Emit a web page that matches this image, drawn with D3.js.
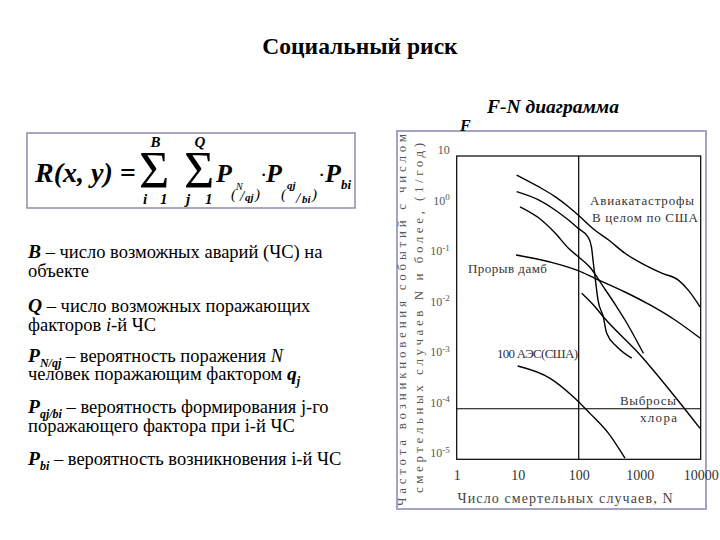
<!DOCTYPE html>
<html>
<head>
<meta charset="utf-8">
<script src="https://cdn.jsdelivr.net/npm/d3@7/dist/d3.min.js"></script>
<style>
  body { margin: 0; background: #fff; }
  svg, svg text { font-family: "Liberation Serif", "Times New Roman", serif; }
</style>
</head>
<body>
<svg id="slide" width="720" height="540"></svg>
<script>
// F-N curves, [N deaths, frequency per year]
const curveTotal = [[9.6, 4.2], [22, 2.47], [41, 1.57], [68, 0.99], [98, 0.68], [185, 0.34], [306, 0.22],
  [574, 0.119], [1080, 0.075], [2300, 0.048], [4300, 0.035], [6300, 0.022], [9750, 0.0104]];
const curveAir = [[9.6, 1.97], [22, 1.35], [41, 0.855], [68, 0.54], [98, 0.37], [142, 0.25], [162, 0.158],
  [173, 0.08], [188, 0.035], [207, 0.0142], [253, 0.0066], [288, 0.0031], [420, 0.0017], [740, 0.001]];
const curveThird = [[10.9, 0.99], [22, 0.6], [41, 0.3], [68, 0.15], [100, 0.1], [153, 0.063], [253, 0.026],
  [420, 0.0104], [574, 0.0057], [1150, 0.00125]];
const curveDams = [[9.4, 0.11], [34, 0.08], [98, 0.054], [185, 0.038], [574, 0.0204], [1475, 0.0113],
  [3790, 0.0057], [9750, 0.0025]];
const curveChlorine = [[112, 0.0192], [185, 0.0104], [253, 0.0066], [1080, 0.00107], [3790, 0.000173], [9750, 0.000041]];
const curveNPP = [[10, 7e-4], [34, 4e-4], [81.5, 1.73e-4], [153, 8.1e-5], [306, 3.3e-5], [574, 1.05e-5]];

const nTicks = [1, 10, 100, 1000, 10000];
const fTicks = [10, 1, 1e-1, 1e-2, 1e-3, 1e-4, 1e-5];
const fTickExp = ["", "0", "-1", "-2", "-3", "-4", "-5"];

const criterionN = 100, criterionF = 1e-4;

// curve labels: text, N and F where the label starts, width
const curveLabels = [
  ["Авиакатастрофы", 153, 1.07, 104],
  ["В целом по США", 165, 0.494, 106],
  ["Прорыв дамб", 1.53, 0.0484, 79],
  ["100 АЭС(США)", 4.58, 0.001, 81],
  ["Выбросы", 475, 1.19e-4, 56],
  ["хлора", 1011, 5.5e-5, 37]
];

const leftLines = [
  [258, [["B", "bi"], [" – число возможных аварий (ЧС) на", ""]]],
  [277, [["объекте", ""]]],
  [312, [["Q", "bi"], [" – число возможных поражающих", ""]]],
  [331, [["факторов ", ""], ["i", "i"], ["-й ЧС", ""]]],
  [362, [["P", "bi"], ["N/qj", "sub"], [" – вероятность поражения ", ""], ["N", "i"]]],
  [380, [["человек поражающим фактором ", ""], ["q", "bi"], ["j", "sub"]]],
  [413, [["P", "bi"], ["qj/bi", "sub"], [" – вероятность формирования j-го", ""]]],
  [432, [["поражающего фактора при i-й ЧС", ""]]],
  [465, [["P", "bi"], ["bi", "sub"], [" – вероятность возникновения i-й ЧС", ""]]]
];

const svg = d3.select("#slide");

// titles
svg.append("text").attr("x", 360).attr("y", 54).attr("text-anchor", "middle")
  .attr("font-size", 23.5).attr("font-weight", "bold").text("Социальный риск");
svg.append("text").attr("x", 487).attr("y", 113)
  .attr("font-size", 19.5).attr("font-weight", "bold").attr("font-style", "italic").text("F-N диаграмма");

// ---------- formula box ----------
svg.append("rect").attr("x", 27).attr("y", 133).attr("width", 328).attr("height", 75)
  .attr("fill", "none").attr("stroke", "#8c8cac").attr("stroke-width", 1.5);

let formula = svg.append("g").attr("font-weight", "bold").attr("font-style", "italic");
// one text element per formula term; parts = [x, y, size, string, plain?]
function term(parts) {
  let t = formula.append("text");
  parts.forEach(function (p) {
    let sp = t.append("tspan").attr("x", p[0]).attr("y", p[1]).attr("font-size", p[2]).text(p[3]);
    if (p[4] === "plain") sp.attr("font-weight", "normal").attr("font-style", "normal");
    if (p[4] === "light") sp.attr("font-weight", "normal");
  });
  return t;
}
term([[35, 182, 28, "R(x, y) ="]]);
term([[139, 188, 52, "Σ", "plain"], [150.5, 147, 15, "B"], [143, 204, 15, "i"], [160, 204, 15, "1"]]);
term([[184, 188, 52, "Σ", "plain"], [194.5, 147, 15, "Q"], [186, 204, 15, "j"], [205, 204, 15, "1"]]);
term([[216, 182, 26, "P"], [231, 199, 15, "(", "light"], [236, 190, 10, "N", "light"],
  [240, 201, 15, "/", "light"], [245, 201, 11, "qj"], [255, 199, 15, ")", "light"]]);
term([[260, 182, 22, "·", "plain"]]);
term([[266, 182, 26, "P"], [281, 199, 15, "(", "light"], [287, 189, 11, "qj"],
  [296, 203, 15, "/", "light"], [302, 203, 11, "bi"], [312, 199, 15, ")", "light"]]);
term([[318, 182, 22, "·", "plain"]]);
term([[325, 182, 26, "P"], [341, 189, 13, "bi"]]);

// ---------- legend text ----------
leftLines.forEach(function (line) {
  let t = svg.append("text").attr("x", 28).attr("y", line[0]).attr("font-size", 18.5);
  let shifted = false;
  line[1].forEach(function (seg) {
    let sp = t.append("tspan").text(seg[0]);
    if (seg[1] === "bi") sp.attr("font-weight", "bold").attr("font-style", "italic").attr("font-size", 19.5);
    if (seg[1] === "i") sp.attr("font-style", "italic");
    if (seg[1] === "sub") {
      sp.attr("font-weight", "bold").attr("font-style", "italic").attr("font-size", 12).attr("dy", 5);
      shifted = true;
    } else if (shifted) {
      sp.attr("dy", -5);
      shifted = false;
    }
  });
});

// ---------- F-N chart ----------
svg.append("rect").attr("x", 397).attr("y", 131).attr("width", 309).attr("height", 378)
  .attr("fill", "none").attr("stroke", "#a4a4c8").attr("stroke-width", 2);
svg.append("text").attr("x", 460).attr("y", 131)
  .attr("font-size", 16).attr("font-weight", "bold").attr("font-style", "italic").text("F");

let x = d3.scaleLog().domain([1, 10000]).range([456.7, 700.7]);
let y = d3.scaleLog().domain([1e-5, 10]).range([459.3, 156]);

let plot = svg.append("g");

plot.append("rect").attr("x", x(1)).attr("y", y(10))
  .attr("width", x(10000) - x(1)).attr("height", y(1e-5) - y(10))
  .attr("fill", "none").attr("stroke", "#000").attr("stroke-width", 1.2);

plot.append("line").attr("x1", x(criterionN)).attr("x2", x(criterionN))
  .attr("y1", y(10)).attr("y2", y(1e-5)).attr("stroke", "#000").attr("stroke-width", 1.2);
plot.append("line").attr("x1", x(1)).attr("x2", x(10000))
  .attr("y1", y(criterionF)).attr("y2", y(criterionF)).attr("stroke", "#000").attr("stroke-width", 1.2);

let line = d3.line().x(d => x(d[0])).y(d => y(d[1])).curve(d3.curveMonotoneX);
[curveTotal, curveAir, curveThird, curveDams, curveChlorine, curveNPP].forEach(function (c) {
  plot.append("path").datum(c).attr("d", line)
    .attr("fill", "none").attr("stroke", "#000").attr("stroke-width", 1.4);
});

// axes (labels only)
let xAxis = plot.append("g").attr("transform", "translate(0," + y(1e-5) + ")")
  .call(d3.axisBottom(x).tickValues(nTicks).tickSize(0).tickPadding(11).tickFormat(d3.format("d")));
xAxis.select(".domain").remove();
xAxis.selectAll("text").attr("font-size", 14).attr("font-family", "Liberation Serif").attr("fill", "#333");

let yAxis = plot.append("g").attr("transform", "translate(" + x(1) + ",0)")
  .call(d3.axisLeft(y).tickValues(fTicks).tickSize(0).tickPadding(7));
yAxis.select(".domain").remove();
yAxis.selectAll("text").attr("font-size", 12).attr("font-family", "Liberation Serif")
  .attr("fill", "#555").attr("dy", "-0.2em")
  .each(function (d, i) {
    let t = d3.select(this).text(null);
    t.append("tspan").text("10");
    if (fTickExp[i]) t.append("tspan").attr("dy", "-0.5em").attr("font-size", 9).text(fTickExp[i]);
  });

// axis titles
svg.append("text").attr("x", 565).attr("y", 503).attr("text-anchor", "middle")
  .attr("font-size", 14).attr("fill", "#444").attr("textLength", 215)
  .text("Число смертельных случаев, N");
svg.append("text").attr("transform", "translate(406,320) rotate(-90)").attr("text-anchor", "middle")
  .attr("font-size", 13).attr("fill", "#555").attr("textLength", 372)
  .text("Частота возникновения событий с числом");
svg.append("text").attr("transform", "translate(423,318) rotate(-90)").attr("text-anchor", "middle")
  .attr("font-size", 13).attr("fill", "#555").attr("textLength", 350)
  .text("смертельных случаев N и более, (1/год)");

// curve labels
curveLabels.forEach(function (l) {
  plot.append("text").attr("x", x(l[1])).attr("y", y(l[2]))
    .attr("font-size", 13).attr("fill", "#333").attr("textLength", l[3])
    .text(l[0]);
});
</script>
</body>
</html>
